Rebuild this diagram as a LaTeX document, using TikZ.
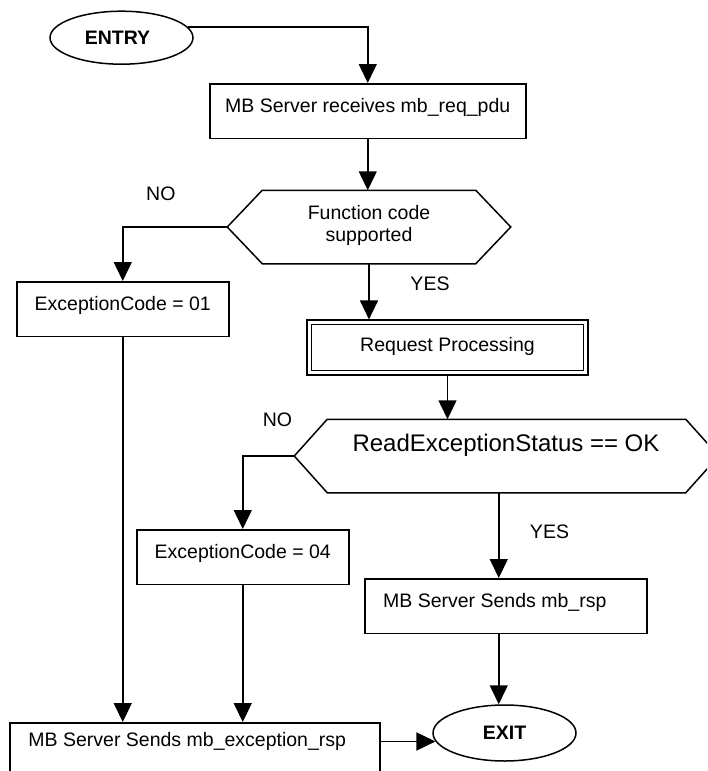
\documentclass[tikz,border=0pt]{standalone}
\usepackage{fontspec}
\setmainfont{Liberation Sans}
\usetikzlibrary{arrows.meta,shapes.geometric,calc}
\newcommand{\mainsz}{\fontsize{19.5pt}{22pt}\selectfont}
\newcommand{\bigsz}{\fontsize{24pt}{28pt}\selectfont}
\newcommand{\drawhex}[2]{\draw[line] (#1.west) -- ([xshift=#2]#1.north west) -- ([xshift=-#2]#1.north east) -- (#1.east) -- ([xshift=-#2]#1.south east) -- ([xshift=#2]#1.south west) -- cycle;}
\tikzset{
  line/.style={line width=1.5pt, line join=miter},
  arr/.style={line, -{Triangle[length=19pt,width=18pt]}},
  proc/.style={draw, line width=1.5pt, rectangle, inner sep=0pt, text height=28.5pt, text depth=26pt, font=\mainsz, anchor=north west},
  hexholder/.style={rectangle, inner sep=0pt, outer sep=0.75pt},
  term/.style={draw, ellipse, line width=1.5pt, inner sep=0pt, minimum width=143pt, font=\mainsz\bfseries},
  lbl/.style={font=\mainsz, inner sep=0pt},
}
\begin{document}
\begin{tikzpicture}[x=1pt,y=-1pt]
\useasboundingbox (0,0) rectangle (707,771);
\fill[white] (0,0) rectangle (707,771);
\clip (0,0) rectangle (707,771);

% terminals
\node[term, minimum height=53pt] (entry) at (121.5,37.7) {ENTRY\hspace*{8pt}};
\node[term, minimum height=56pt] (exit) at (504.5,733) {EXIT};

% process boxes
\node[proc, minimum width=316pt] (box1) at (209,83) {MB Server receives mb\_req\_pdu};
\node[proc, minimum width=212pt] (box01) at (16,281) {ExceptionCode = 01};
\node[proc, minimum width=212pt] (box04) at (136,529) {ExceptionCode = 04};
\node[proc, minimum width=282pt] (rsp) at (364,578) {MB Server Sends mb\_rsp\hspace*{22pt}};
\node[proc, minimum width=370pt, text height=24pt, text depth=56pt] (bot) at (9,722) {MB Server Sends mb\_exception\_rsp\hspace*{15pt}};

% predefined process (double border)
\node[draw, double, line width=1.3pt, double distance=3.3pt, rectangle, inner sep=0pt,
      outer sep=2.95pt, minimum width=276.3pt, text height=28.65pt, text depth=21.65pt,
      font=\mainsz] (rp) at (447.5,347.5) {Request Processing};

% decisions
\node[hexholder, minimum width=282pt, minimum height=72pt] (d1) at (369,227) {};
\drawhex{d1}{35pt}
\node[font=\mainsz, align=center, inner sep=0pt] (d1txt) at (369,225.5) {Function code\\supported};

\node[hexholder, minimum width=423pt, minimum height=72pt] (d2) at (506.5,456) {};
\drawhex{d2}{33pt}
\node[font=\bigsz, inner sep=0pt, anchor=base] (d2txt) at (506,451.6) {ReadExceptionStatus == OK};

% labels
\node[lbl] (no1) at (160.8,193.7) {NO};
\node[lbl] (yes1) at (430,283.3) {YES};
\node[lbl] (no2) at (277.5,419.5) {NO};
\node[lbl] (yes2) at (549.5,531.7) {YES};

% connectors
\draw[arr] (entry.9) -| (box1.north);
\draw[arr] (box1.south) -- (box1.south |- d1.north);
\draw[arr] (d1.west) -| (box01.north);
\draw[arr] (d1.south) -- (d1.south |- rp.north);
\draw[arr] (rp.south) -- (rp.south |- d2.north);
\draw[arr] (d2.west) -| (box04.north);
\draw[arr] ([xshift=-7pt]rsp.north |- d2.south) -- ([xshift=-7pt]rsp.north);
\draw[arr] ([xshift=-7pt]rsp.south) -- ([xshift=-7pt]rsp.south |- exit.north);
\draw[arr] (box01.south) -- (box01.south |- bot.north);
\draw[arr] (box04.south) -- (box04.south |- bot.north);
\draw[arr] (bot.east |- exit.187) -- (exit.187);
\end{tikzpicture}
\end{document}
